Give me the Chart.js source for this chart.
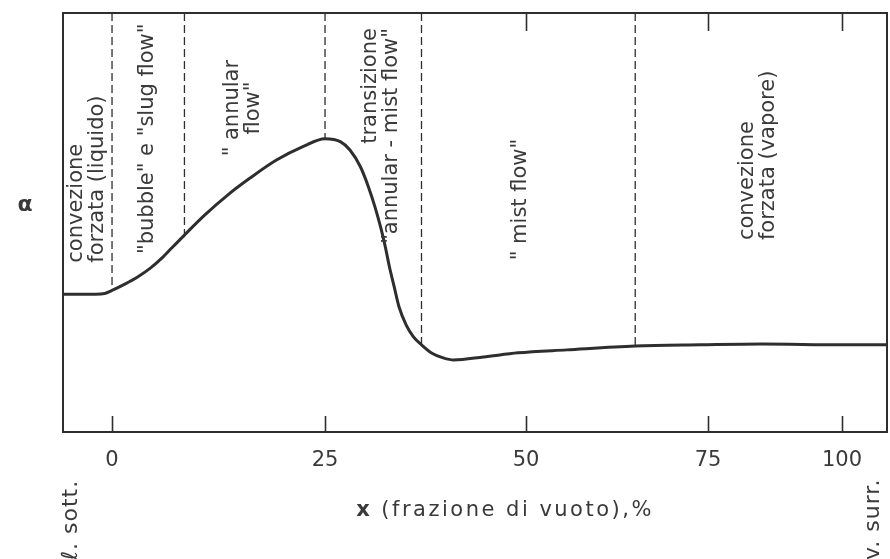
<!DOCTYPE html>
<html>
<head>
<meta charset="utf-8">
<script src="https://cdn.jsdelivr.net/npm/chart.js@4/dist/chart.umd.min.js"></script>
<style>
  html, body { margin: 0; padding: 0; background: #ffffff; }
  #wrap { width: 890px; height: 559px; position: relative; }
</style>
</head>
<body>
<div id="wrap"><canvas id="c" width="890" height="559"></canvas></div>
<script>
// Vapour fraction along the channel (%), negative = subcooled liquid, >100 = superheated vapour
const vapourFraction = [-6, -2, -0.9, 0, 1.5, 3, 4.5, 6, 7, 8.5, 10.9, 13.6, 16.2, 19.3, 22.4, 25,
  26.9, 28.1, 29.4, 30.4, 31.2, 31.9, 32.5, 33.0, 33.6, 34.2, 35.1, 36.0, 37, 38.3, 39.7, 41,
  44.7, 49, 55.6, 65, 74, 85, 100, 108];
// Heat transfer coefficient α (relative units)
const alphaValues = [32.9, 32.9, 33.05, 33.8, 35.3, 37.0, 39.1, 41.8, 43.9, 47.0, 51.8, 56.6, 60.6, 64.9, 68.1, 70.0,
  69.3, 67.3, 63.3, 58.5, 53.8, 49.0, 44.2, 39.5, 34.7, 29.9, 25.5, 22.7, 20.8, 18.8, 17.7, 17.2,
  17.9, 18.9, 19.6, 20.5, 20.8, 21.0, 20.8, 20.8];
// Flow regime boundaries (vapour fraction, %)
const regimeBounds = [0, 8.5, 25, 37, 65];
// Tick values of the vapour-fraction axis
const xTicks = [0, 25, 50, 75, 100];
// Flow regime names, one entry per region
const regimeNames = [
  ['convezione', 'forzata (liquido)'],
  ['"bubble" e "slug flow"'],
  ['" annular', 'flow"'],
  ['transizione', '"annular - mist flow"'],
  ['" mist flow"'],
  ['convezione', 'forzata (vapore)']
];
// Labels at the two ends of the horizontal axis
const axisEnds = ['ℓ. sott.', 'v. surr.'];
const axisTitle = ['x', ' (frazione di vuoto),%'];
const yTitle = 'α';

const ink = '#2e2e2e';
const textInk = '#3a3a3a';
const FONT = '"DejaVu Sans", sans-serif';

// The vapour-fraction axis is drawn compressed towards high qualities:
// piecewise-linear map from value to fraction of the axis length.
const warpValues = [-6, 0, 25, 50, 75, 100, 108];
const warpFractions = [0, 0.0595, 0.3180, 0.5619, 0.7828, 0.9454, 1];

function interp(v, from, to) {
  if (v <= from[0]) return to[0] + (v - from[0]) * (to[1] - to[0]) / (from[1] - from[0]);
  for (let i = 1; i < from.length; i++) {
    if (v <= from[i]) {
      return to[i - 1] + (v - from[i - 1]) * (to[i] - to[i - 1]) / (from[i] - from[i - 1]);
    }
  }
  const n = from.length - 1;
  return to[n] + (v - from[n]) * (to[n] - to[n - 1]) / (from[n] - from[n - 1]);
}

class WarpedScale extends Chart.LinearScale {
  static id = 'warped';
  getPixelForValue(value) {
    if (value === null || value === undefined || isNaN(value)) return NaN;
    return this.getPixelForDecimal(interp(value, warpValues, warpFractions));
  }
  getValueForPixel(pixel) {
    return interp(this.getDecimalForPixel(pixel), warpFractions, warpValues);
  }
}
Chart.register(WarpedScale);

// Anchor of each regime name in data units; align refers to the rotated text direction
const regimeLabelLayout = [
  { x: -3.0, a: 40.4, align: 'left' },
  { x: 4.2, a: 42.5, align: 'left' },
  { x: 15.4, a: 77.3, align: 'center' },
  { x: 32.0, a: 96.4, align: 'right' },
  { x: 49.3, a: 41.0, align: 'left' },
  { x: 84.3, a: 45.8, align: 'left' }
];

function alphaAt(v) {
  return alphaValues[vapourFraction.indexOf(v)];
}

function verticalText(ctx, lines, px, py, align, gap) {
  ctx.save();
  ctx.translate(px, py);
  ctx.rotate(-Math.PI / 2);
  ctx.textAlign = align;
  ctx.textBaseline = 'middle';
  lines.forEach((t, i) => ctx.fillText(t, 0, (i - (lines.length - 1) / 2) * gap));
  ctx.restore();
}

const decor = {
  id: 'decor',
  afterDatasetsDraw(chart) {
    const { ctx, chartArea: a, scales: { x, y } } = chart;
    ctx.save();

    // plot frame
    ctx.strokeStyle = ink;
    ctx.lineWidth = 2;
    ctx.strokeRect(a.left, a.top, a.right - a.left, a.bottom - a.top);

    // inward tick marks
    ctx.lineWidth = 1.6;
    ctx.beginPath();
    xTicks.forEach(v => {
      const px = Math.round(x.getPixelForValue(v)) + 0.5;
      ctx.moveTo(px, a.bottom);
      ctx.lineTo(px, a.bottom - 16);
      if (!regimeBounds.includes(v)) {
        ctx.moveTo(px, a.top);
        ctx.lineTo(px, a.top + 18);
      }
    });
    ctx.stroke();

    // regime names
    ctx.fillStyle = textInk;
    ctx.font = '21px ' + FONT;
    regimeNames.forEach((lines, i) => {
      const l = regimeLabelLayout[i];
      verticalText(ctx, lines, x.getPixelForValue(l.x), y.getPixelForValue(l.a), l.align, 21);
    });

    // axis end markers
    ctx.font = '22px ' + FONT;
    ctx.letterSpacing = '1px';
    verticalText(ctx, [axisEnds[0]], 71, 560, 'left', 0);
    verticalText(ctx, [axisEnds[1]], 873, 560, 'left', 0);

    // vertical axis title
    ctx.letterSpacing = '0px';
    ctx.font = 'bold 22px ' + FONT;
    ctx.textAlign = 'center';
    ctx.textBaseline = 'middle';
    ctx.fillText(yTitle, 25, 205);

    // horizontal axis title: bold symbol followed by the description
    const boldFont = 'bold 21px ' + FONT;
    const normFont = '21px ' + FONT;
    ctx.letterSpacing = '2.5px';
    ctx.font = boldFont;
    const w0 = ctx.measureText(axisTitle[0]).width;
    ctx.font = normFont;
    const w1 = ctx.measureText(axisTitle[1]).width;
    const tx = 505 - (w0 + w1) / 2;
    const ty = 511;
    ctx.textAlign = 'left';
    ctx.textBaseline = 'middle';
    ctx.font = boldFont;
    ctx.fillText(axisTitle[0], tx, ty);
    ctx.font = normFont;
    ctx.fillText(axisTitle[1], tx + w0, ty);
    ctx.letterSpacing = '0px';

    ctx.restore();
  }
};

const curve = {
  data: vapourFraction.map((v, i) => ({ x: v, y: alphaValues[i] })),
  borderColor: ink,
  borderWidth: 3,
  pointRadius: 0,
  cubicInterpolationMode: 'monotone',
  fill: false
};

const boundaryLines = regimeBounds.map(b => ({
  data: [{ x: b, y: 100 }, { x: b, y: alphaAt(b) }],
  borderColor: ink,
  borderWidth: 1.3,
  borderDash: [8, 4],
  pointRadius: 0,
  fill: false
}));

new Chart(document.getElementById('c'), {
  type: 'line',
  data: { datasets: [curve, ...boundaryLines] },
  options: {
    responsive: false,
    animation: false,
    devicePixelRatio: 1,
    layout: { padding: { left: 63, top: 13, right: 3, bottom: 0 } },
    plugins: { legend: { display: false }, tooltip: { enabled: false } },
    scales: {
      x: {
        type: 'warped',
        min: -6,
        max: 108,
        bounds: 'data',
        afterBuildTicks: s => { s.ticks = xTicks.map(v => ({ value: v })); },
        afterFit: s => { s.height = 127; },
        grid: { display: false, drawTicks: false },
        border: { display: false },
        ticks: {
          autoSkip: false,
          maxRotation: 0,
          padding: 16,
          color: textInk,
          font: { family: FONT, size: 21 },
          callback: v => String(v)
        }
      },
      y: { min: 0, max: 100, display: false }
    }
  },
  plugins: [decor]
});
</script>
</body>
</html>
